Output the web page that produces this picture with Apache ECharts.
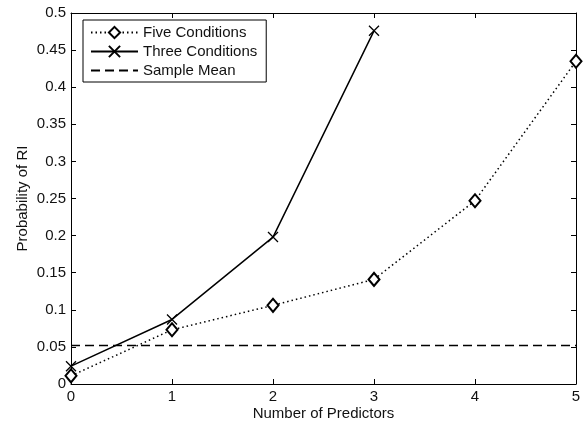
<!DOCTYPE html>
<html>
<head>
<meta charset="utf-8">
<script src="https://cdn.jsdelivr.net/npm/echarts@6/dist/echarts.min.js"></script>
<style>
  html, body { margin: 0; padding: 0; background: #fff; }
  #main { width: 586px; height: 425px; }
</style>
</head>
<body>
<div id="main"></div>
<script>
var predictors = [0, 1, 2, 3, 4, 5];
var fiveConditions = [0.011, 0.073, 0.106, 0.141, 0.247, 0.435];
var threeConditions = [0.024, 0.087, 0.198, 0.476];
var sampleMean = 0.052;

function pairs(xs, ys) {
    var out = [];
    for (var i = 0; i < ys.length; i++) {
        out.push([xs[i], ys[i]]);
    }
    return out;
}

var myChart = echarts.init(document.getElementById('main'));
var txt = { color: '#111', fontFamily: 'Liberation Sans, Arial, sans-serif', fontSize: 15 };

var axisBase = {
    type: 'value',
    axisLine: { show: true, onZero: false, lineStyle: { color: '#000', width: 1 } },
    axisTick: { show: true, inside: true, length: 5, lineStyle: { color: '#000' } },
    splitLine: { show: false }
};

option = {
    backgroundColor: '#fff',
    animation: false,
    textStyle: txt,
    grid: { left: 71, right: 10, top: 13, bottom: 41, containLabel: false, outerBoundsMode: 'none' },
    legend: {
        orient: 'vertical',
        left: 83,
        top: 20,
        padding: [5, 9, 4, 7],
        itemWidth: 47,
        itemHeight: 14,
        itemGap: 4,
        borderColor: '#000',
        borderWidth: 1,
        borderRadius: 0,
        backgroundColor: '#fff',
        textStyle: txt,
        data: ['Five Conditions', 'Three Conditions', { name: 'Sample Mean', itemStyle: { opacity: 0 } }]
    },
    xAxis: [
        Object.assign({}, axisBase, {
            min: 0, max: 5, interval: 1,
            name: 'Number of Predictors',
            nameLocation: 'middle',
            nameGap: 22,
            nameMoveOverlap: false,
            nameTextStyle: txt,
            axisLabel: Object.assign({ margin: 5 }, txt)
        }),
        Object.assign({}, axisBase, {
            min: 0, max: 5, interval: 1,
            position: 'top',
            axisLabel: { show: false }
        })
    ],
    yAxis: [
        Object.assign({}, axisBase, {
            min: 0, max: 0.5, interval: 0.05,
            name: 'Probability of RI',
            nameLocation: 'middle',
            nameGap: 41,
            nameMoveOverlap: false,
            nameTextStyle: txt,
            axisLabel: Object.assign({ margin: 5 }, txt)
        }),
        Object.assign({}, axisBase, {
            min: 0, max: 0.5, interval: 0.05,
            position: 'right',
            axisLabel: { show: false }
        })
    ],
    series: [
        {
            name: 'Five Conditions',
            type: 'line',
            data: pairs(predictors, fiveConditions),
            symbol: 'diamond',
            symbolSize: [11, 13],
            showAllSymbol: true,
            lineStyle: { color: '#000', width: 1.5, type: [1.5, 3] },
            itemStyle: { color: '#fff', borderColor: '#000', borderWidth: 2 },
            z: 3
        },
        {
            name: 'Three Conditions',
            type: 'line',
            data: pairs(predictors, threeConditions),
            symbol: 'path://M0,0L10,10M10,0L0,10',
            symbolSize: 10,
            showAllSymbol: true,
            lineStyle: { color: '#000', width: 1.5, type: 'solid' },
            itemStyle: { color: '#000', borderColor: '#000', borderWidth: 1.3 },
            z: 4
        },
        {
            name: 'Sample Mean',
            type: 'line',
            data: [[predictors[0], sampleMean], [predictors[predictors.length - 1], sampleMean]],
            symbol: 'none',
            lineStyle: { color: '#000', width: 1.5, type: [9, 5] },
            itemStyle: { color: '#000' },
            z: 2
        }
    ]
};
myChart.setOption(option);
</script>
</body>
</html>
